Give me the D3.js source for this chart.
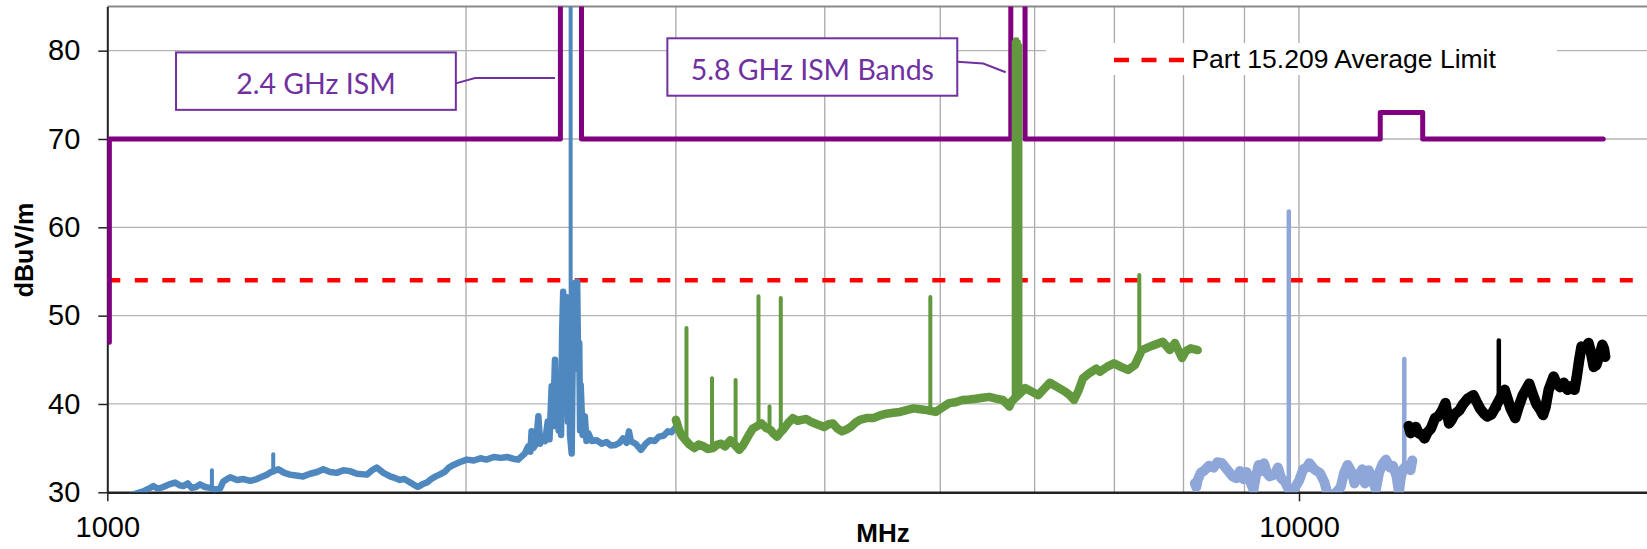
<!DOCTYPE html>
<html>
<head>
<meta charset="utf-8">
<script src="https://cdn.jsdelivr.net/npm/d3@7"></script>
<style>
    body { margin: 0; background: #fff; }
    svg { display: block; }
</style>
</head>
<body>
<svg id="grafico"></svg>
<script>
// eixos
const xTicks = [1000, 10000];
const yTicks = [30, 40, 50, 60, 70, 80];
const xGrid = [2000, 3000, 4000, 5000, 6000, 7000, 8000, 9000, 10000];
const yGrid = [40, 50, 60, 70, 80];

// limite medio Part 15.209
const avgLimit = 54;

// limite das bandas ISM (roxo)
const ismLimit = [[1004, 47], [1004, 70], [2400, 70], [2400, 100], [2500, 100], [2500, 70],
    [5730, 70], [5730, 100], [5890, 100], [5890, 70], [11700, 70], [11700, 73],
    [12700, 73], [12700, 70], [18000, 70]];

// varredura 1-3 GHz
const blue = [[1045, 29.6], [1060, 29.9], [1072, 30.1], [1083, 30.4], [1093, 30.7], [1103, 30.4], [1114, 30.6],
    [1127, 30.9], [1140, 31.1], [1150, 30.8], [1158, 30.7], [1168, 31.0], [1177, 30.5], [1187, 30.6], [1196, 30.9],
    [1208, 30.6], [1220, 30.5], [1231, 30.3], [1243, 30.4], [1251, 31.2], [1260, 31.5], [1268, 31.7], [1285, 31.4],
    [1301, 31.5], [1318, 31.3], [1335, 31.5], [1350, 31.8], [1361, 32.0], [1372, 32.3], [1392, 32.6], [1408, 32.2],
    [1423, 32.0], [1440, 31.9], [1460, 31.8], [1480, 32.1], [1500, 32.3], [1518, 32.6], [1538, 32.3], [1558, 32.2],
    [1578, 32.5], [1598, 32.4], [1620, 32.1], [1651, 32.0], [1668, 32.5], [1683, 32.8], [1705, 32.2], [1727, 31.8],
    [1745, 31.6], [1760, 31.4], [1775, 31.5], [1791, 31.2], [1806, 30.9], [1822, 30.6], [1838, 30.9], [1854, 31.1],
    [1870, 31.5], [1886, 31.8], [1900, 32.0], [1919, 32.3], [1935, 32.8], [1952, 33.1], [1975, 33.4], [2003, 33.7],
    [2030, 33.6], [2056, 33.85], [2080, 33.7], [2110, 34.0], [2140, 33.9], [2165, 34.0], [2190, 33.8], [2212, 33.7],
    [2241, 34.4], [2255, 35.2], [2265, 34.6], [2270, 36.9], [2278, 35.0], [2290, 35.5], [2300, 38.6], [2308, 35.5],
    [2315, 36.3], [2330, 35.8], [2342, 38.0], [2350, 36.0], [2360, 42.0], [2366, 37.5], [2375, 45.0], [2380, 38.0],
    [2385, 39.3], [2392, 37.0], [2398, 38.9], [2403, 36.5], [2408, 48.0], [2413, 52.7], [2418, 40.0], [2422, 51.0],
    [2429, 52.1], [2435, 38.0], [2440, 50.0], [2445, 36.5], [2453, 34.4], [2458, 46.0], [2463, 52.0], [2468, 53.7],
    [2472, 45.0], [2476, 53.0], [2479, 53.85], [2484, 44.0], [2489, 46.9], [2493, 37.0], [2496, 42.15], [2505, 36.5],
    [2516, 38.6], [2524, 35.8], [2533, 36.7], [2550, 35.8], [2574, 35.9], [2600, 35.5], [2624, 35.7], [2645, 35.3],
    [2667, 35.35], [2690, 35.6], [2709, 36.1], [2728, 35.6], [2740, 36.9], [2750, 35.8], [2775, 35.5], [2804, 34.8],
    [2830, 35.5], [2853, 35.9], [2880, 35.8], [2903, 36.3], [2930, 36.4], [2954, 36.9], [2975, 36.8], [2992, 37.2]];
const blueSpikes = [[1224, 30.6, 32.5], [1378, 32.2, 34.3], [2448, 35.0, 100]];

// varredura 3-8.2 GHz
const green = [[3000, 38.2], [3010, 37.6], [3018, 37.05], [3035, 36.4], [3057, 35.9], [3080, 35.4], [3110, 35.0],
    [3135, 35.4], [3165, 35.2], [3190, 34.9], [3222, 35.0], [3250, 35.4], [3275, 35.5], [3300, 35.2], [3333, 35.9],
    [3360, 35.4], [3391, 34.8], [3415, 35.3], [3435, 35.9], [3458, 36.6], [3480, 37.2], [3510, 37.5], [3540, 37.8],
    [3570, 37.3], [3602, 37.05], [3625, 36.6], [3648, 36.3], [3672, 36.8], [3696, 37.2], [3730, 37.9], [3761, 38.4],
    [3795, 38.1], [3826, 38.2], [3860, 38.3], [3892, 38.0], [3940, 37.7], [3994, 37.4], [4030, 37.7], [4064, 37.8],
    [4100, 37.2], [4135, 36.9], [4170, 37.1], [4207, 37.4], [4245, 37.9], [4280, 38.2], [4335, 38.4], [4392, 38.4],
    [4450, 38.7], [4507, 38.9], [4565, 39.0], [4625, 39.1], [4685, 39.3], [4747, 39.5], [4810, 39.4], [4871, 39.3],
    [4956, 39.1], [5020, 39.6], [5086, 40.1], [5150, 40.2], [5219, 40.45], [5290, 40.5], [5356, 40.6], [5425, 40.7],
    [5497, 40.8], [5570, 40.6], [5641, 40.45], [5690, 40.0], [5714, 39.7], [5740, 40.3], [5866, 41.5], [5889, 41.8],
    [5965, 41.4], [6043, 41.0], [6110, 41.7], [6180, 42.4], [6270, 41.9], [6364, 41.4], [6420, 41.0], [6475, 40.45],
    [6530, 41.5], [6587, 42.9], [6670, 43.5], [6760, 44.0], [6807, 43.65], [6900, 44.2], [6994, 44.6], [7090, 44.2],
    [7186, 43.85], [7282, 44.4], [7381, 46.1], [7530, 46.6], [7685, 47.05], [7790, 46.1], [7868, 46.9], [7976, 45.2],
    [8040, 46.0], [8111, 46.3], [8222, 46.1]];
const greenSpikes = [[3062, 36.0, 48.6], [3217, 35.0, 42.9], [3367, 35.5, 42.7], [3519, 37.5, 52.2],
    [3595, 37.2, 39.7], [3674, 36.5, 52.0], [4905, 39.2, 52.1], [7345, 45.0, 54.6],
    [5762, 40.3, 81.0], [5780, 40.6, 81.3], [5800, 41.0, 81.3], [5820, 41.2, 81.0], [5838, 41.5, 80.6]];

// varredura 8.2-12.4 GHz
const lightBlue = [[8177, 31.0], [8200, 30.6], [8222, 31.4], [8270, 32.2], [8334, 32.5], [8400, 33.0], [8480, 32.8],
    [8540, 33.4], [8617, 33.3], [8700, 32.6], [8796, 31.8], [8860, 31.6], [8920, 32.4], [8980, 31.5], [9035, 32.3],
    [9100, 31.2], [9158, 30.3], [9200, 31.8], [9250, 33.1], [9300, 32.4], [9346, 33.3], [9400, 32.2], [9450, 31.8],
    [9537, 32.0], [9600, 32.8], [9660, 31.6], [9733, 31.2], [9780, 30.6], [9850, 29.8], [9931, 30.6], [10000, 31.3],
    [10080, 32.6], [10150, 32.8], [10203, 33.3], [10300, 32.6], [10410, 32.2], [10500, 31.2], [10560, 30.0],
    [10623, 29.6], [10700, 29.7], [10780, 30.2], [10839, 30.6], [10910, 32.2], [10986, 33.1], [11080, 32.2],
    [11130, 31.0], [11211, 31.8], [11300, 32.6], [11360, 31.0], [11441, 32.5], [11520, 31.5], [11600, 30.3],
    [11673, 32.2], [11750, 33.2], [11830, 33.7], [11920, 32.8], [11990, 33.0], [12075, 31.8], [12130, 30.0],
    [12170, 31.5], [12210, 32.5], [12300, 33.0], [12404, 32.5], [12448, 33.6]];
const lightBlueSpikes = [[9805, 31.0, 61.8], [12256, 32.0, 45.1]];

// varredura 12.4-18 GHz
const black = [[12363, 37.5], [12404, 36.7], [12470, 37.0], [12532, 37.4], [12600, 36.7], [12680, 36.5],
    [12745, 36.1], [12820, 36.8], [12900, 37.2], [13006, 38.4], [13090, 38.6], [13180, 39.2], [13270, 40.1],
    [13330, 38.6], [13363, 37.8], [13430, 38.2], [13500, 38.8], [13634, 39.3], [13720, 39.9], [13850, 40.6],
    [14005, 41.0], [14100, 40.2], [14200, 39.4], [14300, 38.9], [14389, 38.6], [14500, 38.8], [14600, 39.5],
    [14690, 40.2], [14800, 41.0], [14881, 41.6], [14960, 40.6], [15050, 39.5], [15186, 38.4], [15280, 39.6],
    [15400, 40.9], [15500, 41.6], [15602, 42.3], [15700, 41.2], [15820, 40.0], [15930, 39.4], [16026, 38.75],
    [16100, 39.6], [16200, 41.6], [16355, 43.1], [16450, 42.3], [16560, 41.9], [16680, 42.4], [16800, 41.6],
    [16900, 42.0], [17028, 41.6], [17100, 43.0], [17180, 44.9], [17260, 46.5], [17380, 46.3], [17495, 46.9],
    [17580, 45.8], [17672, 44.2], [17760, 44.4], [17860, 45.4], [17971, 46.7], [18030, 46.2], [18069, 45.35]];
const blackSpikes = [[14712, 39.5, 47.2]];

let width = 1647,
    height = 549,
    mLeft = 107.3,
    mTop = 6.5,
    mBottom = 492.3;

let svg = d3.select("#grafico")
    .attr("width", width)
    .attr("height", height)
    .style("font-family", "'Liberation Sans', Arial, sans-serif");

let x = d3.scaleLog().domain([1000, 20000]).range([mLeft, mLeft + 1191.7 * Math.log10(20)]);
let y = d3.scaleLinear().domain([30, 85]).range([mBottom, mTop]);

svg.append("defs").append("clipPath").attr("id", "area")
    .append("rect")
    .attr("x", mLeft).attr("y", mTop)
    .attr("width", width - mLeft).attr("height", mBottom - mTop);

// grade
svg.append("g").selectAll("line")
    .data(xGrid).enter().append("line")
    .attr("x1", d => x(d)).attr("x2", d => x(d))
    .attr("y1", mTop).attr("y2", mBottom)
    .attr("stroke", "#a9a9a9").attr("stroke-width", 1.3);

svg.append("g").selectAll("line")
    .data(yGrid).enter().append("line")
    .attr("x1", mLeft).attr("x2", width)
    .attr("y1", d => y(d)).attr("y2", d => y(d))
    .attr("stroke", "#b4b4b4").attr("stroke-width", 1.3);

// borda de cima
svg.append("line")
    .attr("x1", mLeft).attr("x2", width)
    .attr("y1", mTop).attr("y2", mTop)
    .attr("stroke", "#8a8a8a").attr("stroke-width", 2);

// eixos
let yAxis = svg.append("g")
    .attr("transform", `translate(${mLeft},0)`)
    .call(d3.axisLeft(y).tickValues(yTicks).tickSize(9).tickSizeOuter(0).tickPadding(18));
yAxis.select(".domain").attr("stroke", "#222").attr("stroke-width", 2);
yAxis.selectAll(".tick line").attr("stroke", "#222").attr("stroke-width", 1.5);
yAxis.selectAll(".tick text").attr("font-size", 29).attr("fill", "#000")
    .style("font-family", "'Liberation Sans', Arial, sans-serif");

let xAxis = svg.append("g")
    .attr("transform", `translate(0,${mBottom})`)
    .call(d3.axisBottom(x).tickValues(xTicks).tickFormat(d3.format("d")).tickSize(9).tickSizeOuter(0).tickPadding(15));
xAxis.select(".domain").attr("stroke", "#222").attr("stroke-width", 2.5);
xAxis.selectAll(".tick line").attr("stroke", "#222").attr("stroke-width", 1.5);
xAxis.selectAll(".tick text").attr("font-size", 29).attr("fill", "#000")
    .style("font-family", "'Liberation Sans', Arial, sans-serif");

svg.append("text")
    .attr("transform", "translate(33,250) rotate(-90)")
    .attr("text-anchor", "middle")
    .attr("font-size", 25).attr("font-weight", "bold")
    .text("dBuV/m");

svg.append("text")
    .attr("x", 883).attr("y", 541.7)
    .attr("text-anchor", "middle")
    .attr("font-size", 26).attr("font-weight", "bold")
    .text("MHz");

let plot = svg.append("g").attr("clip-path", "url(#area)");
let line = d3.line().x(d => x(d[0])).y(d => y(d[1]));

// limite medio
plot.append("path")
    .datum([[1000, avgLimit], [20000, avgLimit]])
    .attr("d", line)
    .attr("fill", "none").attr("stroke", "#ff0000")
    .attr("stroke-width", 4.5).attr("stroke-dasharray", "13,14.5");

// limite ISM
plot.append("path")
    .datum(ismLimit)
    .attr("d", line)
    .attr("fill", "none").attr("stroke", "#800080")
    .attr("stroke-width", 5).attr("stroke-linejoin", "round").attr("stroke-linecap", "round");

// largura da faixa de ruido (w) e das raias (sw)
let series = [
    { data: blue, spikes: blueSpikes, color: "#4f87bf", w: 6.5, sw: 4 },
    { data: green, spikes: greenSpikes, color: "#62993e", w: 8.5, sw: 4 },
    { data: lightBlue, spikes: lightBlueSpikes, color: "#8fa6d8", w: 10, sw: 4.5 },
    { data: black, spikes: blackSpikes, color: "#000000", w: 10.5, sw: 4.5 }
];

series.forEach(s => {
    plot.append("path")
        .datum(s.data)
        .attr("d", line)
        .attr("fill", "none").attr("stroke", s.color)
        .attr("stroke-width", s.w).attr("stroke-linejoin", "round").attr("stroke-linecap", "round");

    plot.append("g").selectAll("line")
        .data(s.spikes).enter().append("line")
        .attr("x1", d => x(d[0])).attr("x2", d => x(d[0]))
        .attr("y1", d => y(d[1])).attr("y2", d => y(d[2]))
        .attr("stroke", s.color).attr("stroke-width", s.sw).attr("stroke-linecap", "round");
});

// anotacoes das bandas
let notes = [
    { text: "2.4 GHz ISM", box: [1142, 1961, 79.8, 73.3], leader: [[1961, 76.3], [2035, 76.9], [2375, 76.9]] },
    { text: "5.8 GHz ISM Bands", box: [2951, 5167, 81.4, 74.9], leader: [[5167, 78.75], [5433, 78.55], [5674, 77.55]] }
];

notes.forEach(n => {
    svg.append("path")
        .datum(n.leader)
        .attr("d", line)
        .attr("fill", "none").attr("stroke", "#7030a0").attr("stroke-width", 2);

    svg.append("rect")
        .attr("x", x(n.box[0])).attr("y", y(n.box[2]))
        .attr("width", x(n.box[1]) - x(n.box[0]))
        .attr("height", y(n.box[3]) - y(n.box[2]))
        .attr("fill", "#fff").attr("stroke", "#7030a0").attr("stroke-width", 2);

    svg.append("text")
        .attr("x", (x(n.box[0]) + x(n.box[1])) / 2)
        .attr("y", (y(n.box[2]) + y(n.box[3])) / 2)
        .attr("dy", "0.44em")
        .attr("text-anchor", "middle")
        .attr("font-size", 28.5).attr("fill", "#7030a0")
        .style("font-family", "Lato, 'Open Sans', sans-serif")
        .text(n.text);
});

// legenda
let legend = svg.append("g");
legend.append("rect")
    .attr("x", 1046).attr("y", 43).attr("width", 511).attr("height", 32)
    .attr("fill", "#fff");
legend.append("line")
    .attr("x1", 1114).attr("x2", 1186).attr("y1", 60).attr("y2", 60)
    .attr("stroke", "#ff0000").attr("stroke-width", 4.5).attr("stroke-dasharray", "15,12.5");
legend.append("text")
    .attr("x", 1191.4).attr("y", 68.3)
    .attr("font-size", 26.5).attr("fill", "#000")
    .text("Part 15.209 Average Limit");
</script>
</body>
</html>
